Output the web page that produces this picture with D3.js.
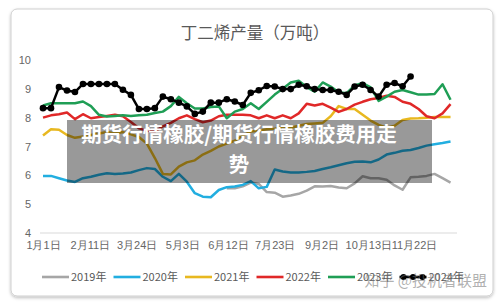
<!DOCTYPE html>
<html><head><meta charset="utf-8">
<script src="https://cdn.jsdelivr.net/npm/d3@7/dist/d3.min.js"></script>
<style>
html,body{margin:0;padding:0;background:#fff;}
svg{display:block;font-family:"Noto Sans CJK SC","Noto Sans",sans-serif;}
</style></head>
<body>
<svg id="c" width="500" height="303"></svg>
<script>
const title = "丁二烯产量（万吨）";
const seriesNames = ["2019年","2020年","2021年","2022年","2023年","2024年"];
const seriesColors = ["#a6a6a6","#22aee0","#e8b820","#e02828","#1f9e55","#000000"];
const yTicks = [4,5,6,7,8,9,10];
const xTickDays = [0,41,82,122,162,203,244,285,325];
const xTickLabels = ["1月1日","2月11日","3月24日","5月3日","6月12日","7月23日","9月2日","10月13日","11月22日"];
const overlayText = ["期货行情橡胶/期货行情橡胶费用走","势"];
const watermark = "知乎 @投机者联盟";

// weekly values (week index 0..51)
const s2019 = [null,null,null,null,null,null,null,null,null,null,null,null,null,null,null,null,null,null,null,null,null,null,null,
  5.55,5.55,5.62,5.75,5.7,5.42,5.4,5.26,5.3,5.36,5.47,5.62,5.61,5.63,5.58,5.55,5.72,5.97,5.9,5.9,5.85,5.65,5.5,5.93,5.95,5.98,6.05,5.9,5.75];
const s2020 = [5.98,5.98,5.9,5.82,5.77,5.9,5.95,6.02,6.07,6.05,6.06,6.1,6.18,6.25,6.22,5.95,5.8,6.05,5.78,5.38,5.26,5.24,5.49,5.59,
  5.61,5.67,5.8,5.55,5.6,6.2,6.13,6.1,6.1,6.12,6.15,6.22,6.28,6.35,6.42,6.47,6.48,6.45,6.55,6.72,6.78,6.85,6.88,6.95,7.03,7.08,7.12,7.17];
const s2021 = [7.38,7.6,7.58,7.4,7.3,7.35,7.4,7.45,7.5,7.45,7.5,7.42,7.33,7.1,6.6,6.05,6.03,6.3,6.45,6.52,6.72,6.85,7.0,7.1,
  7.2,7.38,7.52,7.55,7.6,7.62,7.68,7.65,7.72,7.78,7.8,7.82,8.05,8.4,8.3,8.3,8.1,7.9,7.75,7.65,7.72,7.92,7.97,7.98,8.0,8.02,8.02,8.02];
const s2022 = [8.0,8.08,8.12,8.18,7.95,8.12,7.98,8.02,8.06,8.1,8.05,7.85,7.63,7.55,7.52,7.7,7.82,7.98,8.08,7.95,7.84,7.9,8.05,8.1,
  8.1,8.1,8.08,7.98,8.08,7.98,8.08,7.98,8.15,8.48,8.42,8.48,8.35,8.2,8.3,8.45,8.55,8.64,8.68,8.76,8.72,8.55,8.48,8.3,8.05,7.98,8.15,8.47];
const s2023 = [8.42,8.5,8.5,8.5,8.5,8.56,8.4,8.1,8.04,8.06,8.08,8.06,8.08,8.1,8.16,8.21,8.4,8.72,8.5,8.32,8.32,8.37,8.39,7.98,
  8.21,8.3,8.5,8.3,8.55,8.8,9.0,9.22,9.28,9.06,8.9,9.22,9.08,8.88,8.85,9.12,9.2,9.05,8.58,8.73,8.9,8.96,8.88,8.8,8.8,8.82,9.16,8.62];
const s2024 = [8.33,8.33,9.06,8.94,8.89,9.17,9.17,9.17,9.17,9.17,8.97,8.79,8.3,8.3,8.33,8.73,8.64,8.52,8.39,8.13,8.21,8.52,8.52,8.64,
  8.56,8.44,8.86,8.95,9.1,9.08,8.99,8.99,9.14,9.09,8.99,8.96,8.96,8.9,8.79,9.08,9.14,8.96,8.73,9.14,9.2,9.09,9.43];
const allSeries = [s2019,s2020,s2021,s2022,s2023,s2024];

const svg = d3.select("#c");
const defs = svg.append("defs");
const f = defs.append("filter").attr("id","sh").attr("x","-5%").attr("y","-5%").attr("width","110%").attr("height","115%");
f.append("feDropShadow").attr("dx",0).attr("dy",1.5).attr("stdDeviation",1.5).attr("flood-color","#000").attr("flood-opacity",0.25);

svg.append("rect").attr("x",11).attr("y",9).attr("width",482).attr("height",287).attr("rx",6)
  .attr("fill","#fff").attr("stroke","#cfcfcf").attr("filter","url(#sh)");

svg.append("text").attr("x",255).attr("y",39).attr("text-anchor","middle")
  .attr("font-size",16.5).attr("fill","#595959").text(title);

const x = d3.scaleLinear().domain([0,325]).range([43,414]);
const y = d3.scaleLinear().domain([4,10]).range([233,60]);

// baseline
svg.append("line").attr("x1",40).attr("x2",457).attr("y1",y(4)).attr("y2",y(4)).attr("stroke","#d9d9d9").attr("stroke-width",1);

// y axis labels
const yAxis = d3.axisLeft(y).tickValues(yTicks).tickSize(0).tickPadding(0).tickFormat(d3.format("d"));
const gy = svg.append("g").attr("transform","translate(31,0)").call(yAxis);
gy.select(".domain").remove();
gy.selectAll("text").attr("font-size",11).attr("fill","#666").attr("font-family","'Liberation Sans',sans-serif");

// x axis labels
const xAxis = d3.axisBottom(x).tickValues(xTickDays).tickSize(0).tickPadding(0).tickFormat((d,i)=>xTickLabels[i]);
const gx = svg.append("g").attr("transform","translate(0,"+(y(4)+8)+")").call(xAxis);
gx.select(".domain").remove();
gx.selectAll("text").attr("font-size",11).attr("fill","#666");

const line = d3.line().defined(d=>d!=null).x((d,i)=>x(i*7)).y(d=>y(d)).curve(d3.curveLinear);
allSeries.forEach((s,k)=>{
  svg.append("path").datum(s).attr("d",line).attr("fill","none")
    .attr("stroke",seriesColors[k]).attr("stroke-width",2.5).attr("stroke-linejoin","round");
});
svg.append("g").selectAll("circle").data(s2024).join("circle")
  .attr("cx",(d,i)=>x(i*7)).attr("cy",d=>y(d)).attr("r",3.3).attr("fill","#000");

// legend
const lg = svg.append("g");
seriesNames.forEach((n,k)=>{
  const lx = 42 + k*71.5, ly = 277;
  lg.append("line").attr("x1",lx).attr("x2",lx+27).attr("y1",ly).attr("y2",ly)
    .attr("stroke",seriesColors[k]).attr("stroke-width",2.6);
  if(k===5){
    [lx+4, lx+13.5, lx+23].forEach(cx=>lg.append("circle").attr("cx",cx).attr("cy",ly).attr("r",3).attr("fill","#000"));
  }
  lg.append("text").attr("x",lx+29).attr("y",ly+4).attr("font-size",11).attr("fill","#595959").text(n);
});

// overlay
svg.append("rect").attr("x",67).attr("y",120).attr("width",365).attr("height",63).attr("fill","rgba(0,0,0,0.4)");
overlayText.forEach((t,i)=>{
  svg.append("text").attr("x",239).attr("y",142+i*29.5).attr("text-anchor","middle")
    .attr("font-size",20.5).attr("font-weight","bold").attr("fill","#fff").text(t);
});

// watermark
svg.append("text").attr("x",487).attr("y",286).attr("text-anchor","end")
  .attr("font-size",15).attr("fill","rgba(110,110,110,0.55)").text(watermark);
</script>
</body></html>
